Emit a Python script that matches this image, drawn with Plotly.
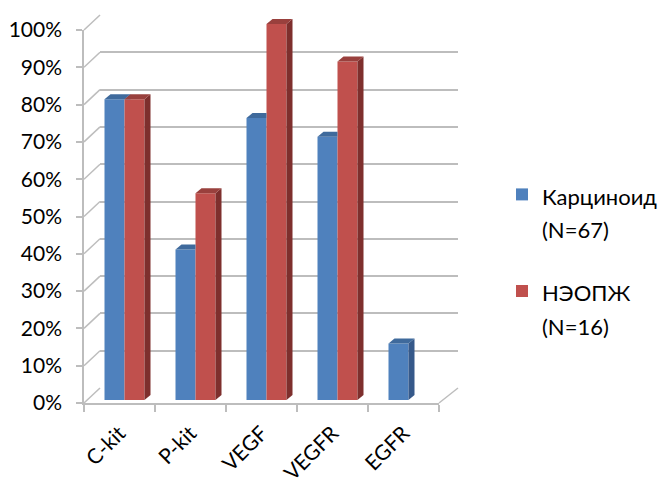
import plotly.graph_objects as go

# ---------------- data ----------------
categories = ["C-kit", "P-kit", "VEGF", "VEGFR", "EGFR"]
carcinoid = [0.80, 0.40, 0.75, 0.70, 0.15]
neopzh = [0.80, 0.55, 1.00, 0.90, 0.00]
series_names = ["Карциноид", "НЭОПЖ"]
series_n = ["(N=67)", "(N=16)"]
tick_values = [i / 10 for i in range(11)]

# ---------------- geometry (pixels) ----------------
W, H = 659, 482
FONT = "Lato"
GRID = "#BDBDBD"

def fx(p):
    return p / W

def fy(p):
    return 1 - p / H

# front wall (axis labels)
F_X0, F_X1, F_Y0, F_Y1 = 84, 439, 403, 30
# back wall (gridlines)
B_X0, B_X1, B_Y0, B_Y1 = 100, 458, 388, 15
# bar plane
P_X0, P_X1, P_Y0, P_Y1 = 89, 444, 400, 24
YMAX = 1.06
P_YTOP = P_Y0 - YMAX * (P_Y0 - P_Y1)

n = len(categories)
cat_px = (P_X1 - P_X0) / n
val_px = (P_Y0 - P_Y1)
bw = 20 / cat_px
dx = 6 / cat_px
dy = 5 / val_px

colors = {
    "front": ["#4F81BD", "#C0504D"],
    "side": ["#36598A", "#7E2F2D"],
    "top": ["#3F6A9C", "#99403D"],
}

fig = go.Figure()

# back wall subplot (x / y) - invisible helper trace
fig.add_trace(go.Scatter(x=[0], y=[0], mode="markers", marker=dict(opacity=0),
                         hoverinfo="skip", showlegend=False, xaxis="x", yaxis="y"))
# front wall subplot (x2 / y2)
fig.add_trace(go.Scatter(x=categories, y=[0] * n, mode="markers", marker=dict(opacity=0),
                         hoverinfo="skip", showlegend=False, xaxis="x2", yaxis="y2"))

series = [carcinoid, neopzh]
offsets = [-bw, 0.0]

# front faces: real bar traces
for s, vals in enumerate(series):
    label = ("<span style='font-size:22px'>" + series_names[s] + "</span><br>"
             "<span style='font-size:22px'>" + series_n[s] + "</span>")
    fig.add_trace(go.Bar(
        x=list(range(n)), y=vals, width=bw, offset=offsets[s], name=label,
        legendgroup=str(s),
        marker=dict(color=colors["front"][s], line=dict(width=0)),
        xaxis="x3", yaxis="y3",
    ))

# 3-D side and top faces (blue ones clipped where the red bar stands in front)
for s, vals in enumerate(series):
    for i, v in enumerate(vals):
        if v <= 0:
            continue
        xl = i + offsets[s]
        xr = xl + bw
        r = series[1][i] if s == 0 else 0.0
        # side face
        if r <= 0:
            sx, sy = [xr, xr + dx, xr + dx, xr, xr], [0, dy, v + dy, v, 0]
        elif r < v:
            sx, sy = [xr, xr + dx, xr + dx, xr, xr], [r, r, v + dy, v, r]
        elif r < v + dy:
            xa = xr + dx * (r - v) / dy
            sx, sy = [xa, xr + dx, xr + dx, xa], [r, r, v + dy, r]
        else:
            sx, sy = None, None
        if sx is not None:
            fig.add_trace(go.Scatter(
                x=sx, y=sy, mode="lines", fill="toself", fillcolor=colors["side"][s],
                line=dict(width=0), hoverinfo="skip", showlegend=False,
                xaxis="x3", yaxis="y3"))
        # top face
        if r > v:
            tx, ty = [xl, xl + dx, xr, xr, xl], [v, v + dy, v + dy, v, v]
        else:
            tx, ty = [xl, xl + dx, xr + dx, xr, xl], [v, v + dy, v + dy, v, v]
        fig.add_trace(go.Scatter(
            x=tx, y=ty, mode="lines", fill="toself", fillcolor=colors["top"][s],
            line=dict(width=0), hoverinfo="skip", showlegend=False,
            xaxis="x3", yaxis="y3"))

# side-wall diagonals and floor edge
shapes = []
for v in tick_values:
    shapes.append(dict(type="line", xref="paper", yref="paper",
                       x0=fx(F_X0), y0=fy(F_Y0 - v * (F_Y0 - F_Y1)),
                       x1=fx(B_X0), y1=fy(B_Y0 - v * (B_Y0 - B_Y1)),
                       line=dict(color=GRID, width=1.5), layer="below"))
shapes.append(dict(type="line", xref="paper", yref="paper",
                   x0=fx(F_X1), y0=fy(F_Y0), x1=fx(B_X1), y1=fy(B_Y0),
                   line=dict(color=GRID, width=1.5), layer="below"))

fig.update_layout(
    template="none",
    width=W, height=H, autosize=False,
    margin=dict(l=0, r=0, t=0, b=0, pad=0, autoexpand=False),
    paper_bgcolor="white", plot_bgcolor="rgba(0,0,0,0)",
    barmode="overlay",
    font=dict(family=FONT, size=20, color="#000000"),
    shapes=shapes,
    showlegend=True,
    legend=dict(x=fx(502), y=fy(171), xanchor="left", yanchor="top",
                font=dict(family=FONT, size=26, color="#000000"),
                valign="top", tracegroupgap=26, bgcolor="rgba(0,0,0,0)",
                borderwidth=0),
    # back wall
    xaxis=dict(domain=[fx(B_X0), fx(B_X1)], range=[0, 1], visible=False,
               automargin=False, fixedrange=True),
    yaxis=dict(domain=[fy(B_Y0), fy(B_Y1)], range=[-0.0005, 1.0005], anchor="x",
               tickvals=tick_values, showticklabels=False, ticks="",
               showgrid=True, gridcolor=GRID, gridwidth=1.5, automargin=False,
               zeroline=False, showline=False, fixedrange=True),
    # front wall
    xaxis2=dict(domain=[fx(F_X0), fx(F_X1)], anchor="y2", type="category",
                categoryorder="array", categoryarray=categories,
                range=[-0.5, n - 0.5], tickson="boundaries", ticks="outside",
                ticklen=7, tickcolor=GRID, tickwidth=1.5, tickangle=-45,
                ticklabelstandoff=8, automargin=False,
                showline=True, linecolor=GRID, linewidth=1.5, showgrid=False,
                zeroline=False, tickfont=dict(family=FONT, size=21), fixedrange=True),
    yaxis2=dict(domain=[fy(F_Y0), fy(F_Y1)], anchor="x2", range=[0, 1],
                tickvals=tick_values, tickformat=".0%", ticks="outside",
                ticklen=6, tickcolor=GRID, tickwidth=1.5, ticklabelstandoff=10,
                showline=True, linecolor=GRID, linewidth=1.5, showgrid=False,
                automargin=False,
                zeroline=False, tickfont=dict(family=FONT, size=21), fixedrange=True),
    # bar plane
    xaxis3=dict(domain=[fx(P_X0), fx(P_X1)], anchor="y3", range=[-0.5, n - 0.5],
                visible=False, automargin=False, fixedrange=True),
    yaxis3=dict(domain=[fy(P_Y0), fy(P_YTOP)], anchor="x3", range=[0, YMAX],
                visible=False, automargin=False, fixedrange=True),
)

fig.write_html("out.html")
